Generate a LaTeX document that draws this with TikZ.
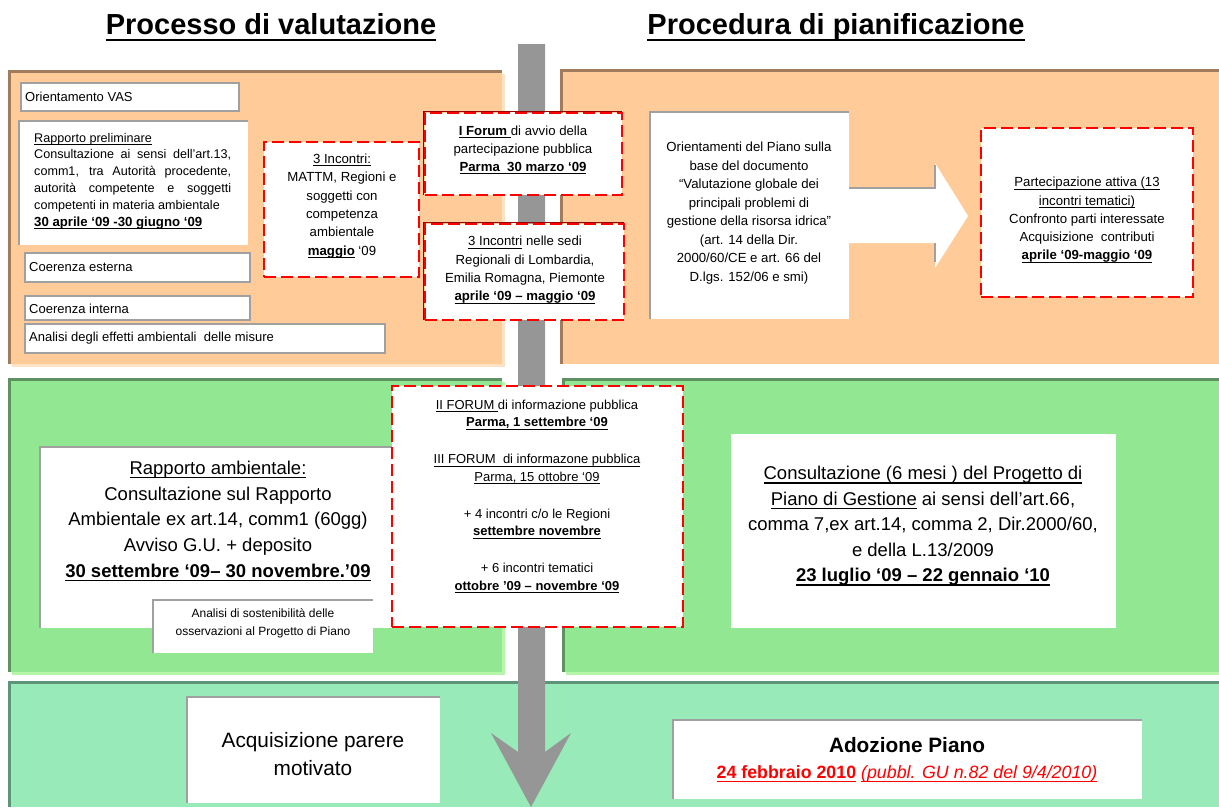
\documentclass[tikz,border=0pt]{standalone}
\usepackage{fontspec}
\setmainfont{Liberation Sans}
\newcommand\myul[1]{\leavevmode\setbox0=\hbox{#1}\rlap{\vrule height -0.14em depth 0.21em width \wd0}\box0\relax}
\definecolor{orfill}{HTML}{FFCC99}
\definecolor{orbord}{HTML}{A07C5C}
\definecolor{orshad}{HTML}{FDE3C4}
\definecolor{grfill}{HTML}{92E892}
\definecolor{grbord}{HTML}{5E9260}
\definecolor{grshad}{HTML}{B4F5A8}
\definecolor{aqfill}{HTML}{98EAB8}
\definecolor{aqbord}{HTML}{5E9478}
\definecolor{arrgray}{HTML}{969696}
\definecolor{boxgray}{HTML}{A0A0A0}
\definecolor{dashred}{HTML}{FF0000}
\definecolor{darkred}{HTML}{990000}
\newcommand\myfs[2]{\fontsize{#1}{#2}\selectfont}
\tikzset{
  wbox/.style={fill=white, draw=boxgray, line width=2pt, inner sep=0pt, outer sep=0pt, anchor=north west},
  sbox/.style={fill=white, draw=none, inner sep=0pt, outer sep=0pt, anchor=north west},
  rbox/.style={fill=white, draw=dashred, line width=2.2pt, dash pattern=on 12pt off 5pt, inner sep=0pt, outer sep=0pt, anchor=north west},
  txt/.style={inner sep=0pt, align=center, text=black},
  gline/.style={draw=boxgray, line width=2.5pt},
  drline/.style={draw=darkred, line width=1.5pt},
  ttl/.style={inner sep=0pt, font=\bfseries\myfs{29}{34}},
}
\begin{document}
\begin{tikzpicture}[x=1pt,y=-1pt]
\useasboundingbox (0,0) rectangle (1219,807);
% titles
\node[ttl] (t1) at (271,27) {\myul{Processo di valutazione}};
\node[ttl] (t2) at (836,27) {\myul{Procedura di pianificazione}};
% orange panels
\fill[orshad] (12,74) rectangle (505,367);
\fill[orfill] (8,70) rectangle (502,364);
\draw[orbord, line width=3pt] (9.5,364) -- (9.5,71.5) -- (502,71.5);
\fill[orfill] (560,69) rectangle (1219,364);
\draw[orbord, line width=3pt] (561.5,364) -- (561.5,70.5) -- (1219,70.5);
% green panels
\fill[grshad] (12,382) rectangle (505,675);
\fill[grfill] (8,378) rectangle (502,672);
\draw[grbord, line width=3pt] (9.5,672) -- (9.5,379.5) -- (502,379.5);
\fill[grshad] (566,382) rectangle (1219,675);
\fill[grfill] (562,378) rectangle (1219,672);
\draw[grbord, line width=3pt] (563.5,672) -- (563.5,379.5) -- (1219,379.5);
% bottom panel
\fill[aqfill] (8,681) rectangle (1219,807);
\draw[aqbord, line width=3pt] (9.5,807) -- (9.5,682.5) -- (1219,682.5);
% main gray arrow
\fill[arrgray] (518,44) -- (545,44) -- (545,752) -- (571,733) -- (531,807) -- (491,733) -- (518,752) -- cycle;
% white arrow top right
\fill[white] (843,188) -- (935,188) -- (935,163) -- (968,216) -- (935,268) -- (935,243) -- (843,243) -- cycle;
\draw[boxgray, line width=2pt] (843,238) -- (843,188) -- (935,188) -- (935,165);
\draw[boxgray, line width=2pt] (935,243) -- (935,262);
% ---- top left boxes
\node[wbox, minimum width=218, minimum height=28] (ovas) at (21,83) {};
\node[txt, anchor=west, font=\myfs{13}{16}] (tovas) at (25,97) {Orientamento VAS};
\node[sbox, minimum width=229, minimum height=124] (rprel) at (19,121) {};
\draw[gline] (rprel.south west) -- (rprel.north west) -- (rprel.north east);
\node[txt, align=left, anchor=west, font=\myfs{12.6}{16.8}] (trprel) at (34,181) {\myul{Rapporto preliminare}\\
\makebox[197pt][s]{Consultazione ai sensi dell’art.13,}\\
\makebox[197pt][s]{comm1, tra Autorità procedente,}\\
\makebox[197pt][s]{autorità competente e soggetti}\\
competenti in materia ambientale\\
{\myfs{13.2}{16.8}\textbf{\myul{30 aprile ‘09 -30 giugno ‘09}}}};
\node[wbox, minimum width=225, minimum height=29] (cest) at (25,253) {};
\node[txt, anchor=west, font=\myfs{13}{16}] (tcest) at (29,267) {Coerenza esterna};
\node[wbox, minimum width=225, minimum height=24] (cint) at (25,296) {};
\node[txt, anchor=west, font=\myfs{13}{16}] (tcint) at (29,309) {Coerenza interna};
\node[wbox, minimum width=360, minimum height=29] (aeff) at (25,324) {};
\node[txt, anchor=west, font=\myfs{13}{16}] (taeff) at (29,338) {Analisi degli effetti ambientali\ \ delle misure};
\node[rbox, minimum width=155, minimum height=135] (inc3) at (264,142) {};
\node[txt, font=\myfs{13.2}{18.4}] (tinc3) at (342,206) {\myul{3 Incontri:}\\MATTM, Regioni e\\soggetti con\\competenza\\ambientale\\\textbf{\myul{maggio}} ‘09};
% ---- central top boxes
\node[rbox, minimum width=197, minimum height=82] (forum1) at (425,113) {};
\draw[drline] (forum1.south west) ++(-1.5,0) -- ++(0,-83.5) -- ++(198.5,0);
\node[txt, font=\myfs{13.2}{18.2}] (tforum1) at (523,150) {\textbf{\myul{I Forum\ }}di avvio della\\partecipazione pubblica\\\textbf{\myul{Parma\ \ 30 marzo ‘09}}};
\node[rbox, minimum width=199, minimum height=96] (sedi) at (425,224) {};
\draw[drline] (sedi.south west) ++(-1.5,0) -- ++(0,-97.5) -- ++(200.5,0);
\node[txt, font=\myfs{13.2}{18.3}] (tsedi) at (525,270) {\myul{3 Incontri} nelle sedi\\Regionali di Lombardia,\\Emilia Romagna, Piemonte\\\textbf{\myul{aprile ‘09 – maggio ‘09}}};
% ---- top right
\node[sbox, minimum width=199, minimum height=207] (orient) at (650,112) {};
\draw[gline] (orient.south west) -- (orient.north west) -- (orient.north east);
\node[txt, font=\myfs{13.2}{18.5}] (torient) at (749,213) {Orientamenti del Piano sulla\\base del documento\\“Valutazione globale dei\\principali problemi di\\gestione della risorsa idrica”\\(art. 14 della Dir.\\2000/60/CE e art. 66 del\\D.lgs. 152/06 e smi)};
\node[rbox, minimum width=212, minimum height=169] (part) at (981,128) {};
\node[txt, font=\myfs{13.2}{18.3}] (tpart) at (1087,220) {\myul{Partecipazione attiva (13}\\\myul{incontri tematici)}\\Confronto parti interessate\\Acquisizione\ \ contributi\\\textbf{\myul{aprile ‘09-maggio ‘09}}};
% ---- middle
\node[sbox, minimum width=352, minimum height=181] (ramb) at (40,447) {};
\draw[gline] (ramb.south west) -- (ramb.north west) -- (ramb.north east);
\node[txt, font=\myfs{18.5}{25.7}] (tramb) at (218,521) {\myul{Rapporto ambientale:}\\Consultazione sul Rapporto\\Ambientale ex art.14, comm1 (60gg)\\Avviso G.U. + deposito\\\textbf{\myul{30 settembre ‘09– 30 novembre.’09}}};
\node[sbox, minimum width=220, minimum height=53] (asost) at (153,600) {};
\draw[gline] (asost.south west) -- (asost.north west) -- (asost.north east);
\node[txt, font=\myfs{12}{17.5}] (tasost) at (263,623.5) {Analisi di sostenibilità delle\\osservazioni al Progetto di Piano};
\node[rbox, minimum width=291, minimum height=241] (forum2) at (392,386) {};
\node[txt, font=\myfs{13}{17.5}] (tforum2) at (537,496.5) {\myul{II FORUM\ }di informazione pubblica\\
\textbf{\myul{Parma, 1 settembre ‘09}}\\[19.5pt]
\myul{III FORUM\ \ di informazone pubblica}\\
\myul{Parma, 15 ottobre ‘09}\\[19.5pt]
+ 4 incontri c/o le Regioni\\
\textbf{\myul{settembre novembre}}\\[19.5pt]
+ 6 incontri tematici\\
\textbf{\myul{ottobre ’09 – novembre ‘09}}};
\node[sbox, minimum width=385, minimum height=194] (cons) at (731,434) {};
\node[txt, font=\myfs{18.5}{25.5}] (tcons) at (923,526) {\myul{Consultazione (6 mesi ) del Progetto di}\\\myul{Piano di Gestione} ai sensi dell’art.66,\\comma 7,ex art.14, comma 2, Dir.2000/60,\\e della L.13/2009\\\textbf{\myul{23 luglio ‘09 – 22 gennaio ‘10}}};
% ---- bottom
\node[sbox, minimum width=253, minimum height=106] (acq) at (187,697) {};
\draw[gline] (acq.south west) -- (acq.north west) -- (acq.north east);
\node[txt, font=\myfs{20.8}{28}] (tacq) at (313,754) {Acquisizione parere\\motivato};
\node[sbox, minimum width=469, minimum height=79] (adoz) at (673,720) {};
\draw[gline] (adoz.south west) -- (adoz.north west) -- (adoz.north east);
\node[txt, font=\myfs{20.8}{26}] (tadoz) at (907,760) {\textbf{Adozione Piano}\\{\color{red}\myfs{17.8}{26}\textbf{\myul{24 febbraio 2010}} \textit{\myul{(pubbl. GU n.82 del 9/4/2010)}}}};
\end{tikzpicture}
\end{document}
